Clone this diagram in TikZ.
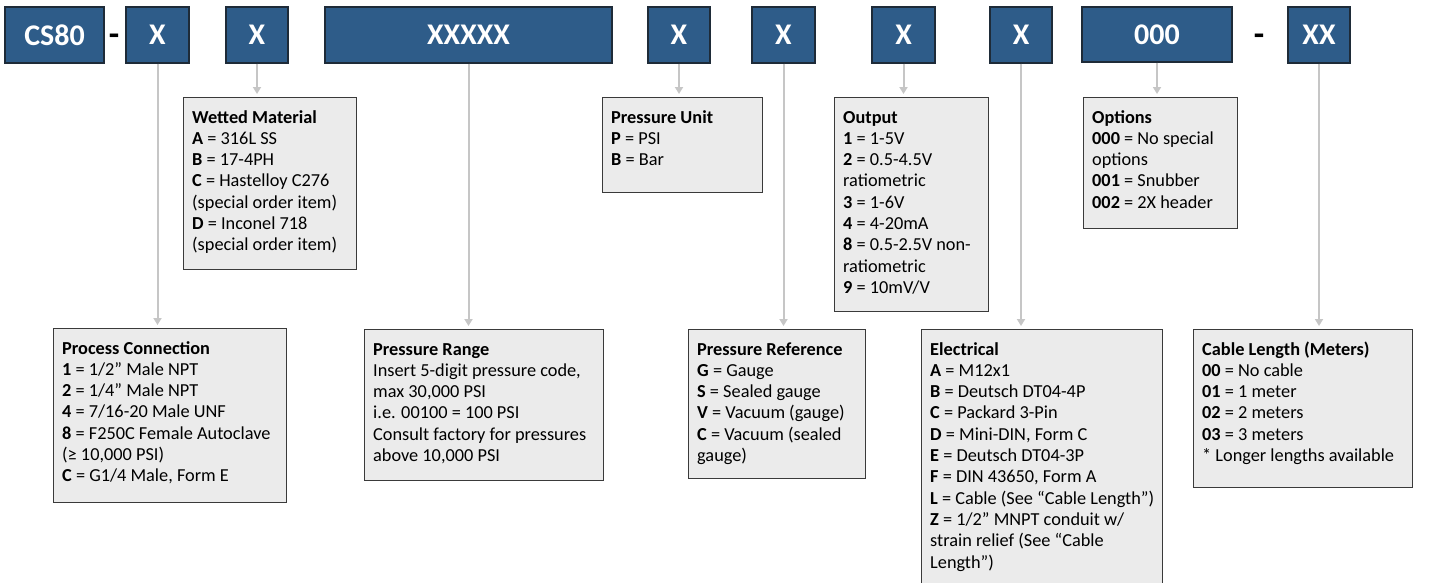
\documentclass[tikz,border=0pt]{standalone}
\usepackage{fontspec}
\setmainfont{Carlito}
\usetikzlibrary{arrows.meta}
\definecolor{hdrblue}{HTML}{2E5C89}
\definecolor{hdredge}{HTML}{1E2B38}
\definecolor{boxfill}{HTML}{EBEBEB}
\definecolor{boxedge}{HTML}{3A3A3A}
\definecolor{conncol}{HTML}{C6C6C6}
\tikzset{
  hdr/.style={draw=hdredge, line width=1.2pt, fill=hdrblue, text=white,
    font=\fontsize{30}{32}\selectfont\bfseries, inner sep=0pt, minimum height=56pt},
  ibox/.style={draw=boxedge, line width=1.3pt, fill=boxfill, inner sep=0pt, anchor=north west},
  itext/.style={anchor=base west, inner sep=0pt},
  dashtxt/.style={font=\fontsize{34}{36}\selectfont\bfseries, inner sep=0pt},
  conn/.style={draw=conncol, line width=2pt, -{Triangle[width=8pt,length=7pt]}, shorten >=3pt}
}
\newcommand{\infobox}[6]{%
  \node[ibox, minimum width={(#4-#2)*1pt}, minimum height={(#5-#3)*1pt}] (#1) at (#2,#3) {};
  \node[itext] (#1-txt) at ({#2+9},{#3+26}) {\parbox[t]{400pt}{\fontsize{18.3}{21.3}\selectfont #6}};
}
\begin{document}
\begin{tikzpicture}[x=1pt,y=-1pt]
\useasboundingbox[fill=white] (0,0) rectangle (1434,582);

% header row
\node[hdr, minimum width=99pt] (cs80) at (54.5,35) {CS80};
\node[dashtxt] (d1) at (114,40) {-};
\node[hdr, minimum width=63pt] (xa) at (157.5,35) {X};
\node[hdr, minimum width=62pt] (xb) at (257,35) {X};
\node[hdr, minimum width=287pt] (xr) at (468.5,35) {XXXXX};
\node[hdr, minimum width=62pt] (xu) at (679,35) {X};
\node[hdr, minimum width=63pt] (xp) at (783.5,35) {X};
\node[hdr, minimum width=63pt] (xo) at (903.5,35) {X};
\node[hdr, minimum width=62pt] (xe) at (1021,35) {X};
\node[hdr, minimum width=150pt, minimum height=55pt] (hopt) at (1157,34.5) {000};
\node[dashtxt] (d2) at (1259,40) {-};
\node[hdr, minimum width=62pt] (xx) at (1319,35) {XX};

% upper info boxes
\infobox{wm}{183}{97}{356}{269}{\textbf{Wetted Material}\\
\textbf{A} = 316L SS\\
\textbf{B} = 17-4PH\\
\textbf{C} = Hastelloy C276\\
(special order item)\\
\textbf{D} = Inconel 718\\
(special order item)}

\infobox{pu}{602}{97}{762}{192}{\textbf{Pressure Unit}\\
\textbf{P} = PSI\\
\textbf{B} = Bar}

\infobox{out}{834}{97}{988}{311}{\textbf{Output}\\
\textbf{1} = 1-5V\\
\textbf{2} = 0.5-4.5V\\
ratiometric\\
\textbf{3} = 1-6V\\
\textbf{4} = 4-20mA\\
\textbf{8} = 0.5-2.5V non-\\
ratiometric\\
\textbf{9} = 10mV/V}

\infobox{opbox}{1083}{97}{1237}{228}{\textbf{Options}\\
\textbf{000} = No special\\
options\\
\textbf{001} = Snubber\\
\textbf{002} = 2X header}

% lower info boxes
\infobox{pc}{53}{328}{286}{502}{\textbf{Process Connection}\\
\textbf{1} = 1/2” Male NPT\\
\textbf{2} = 1/4” Male NPT\\
\textbf{4} = 7/16-20 Male UNF\\
\textbf{8} = F250C Female Autoclave\\
(≥ 10,000 PSI)\\
\textbf{C} = G1/4 Male, Form E}

\infobox{pr}{364}{329}{603}{480}{\textbf{Pressure Range}\\
Insert 5-digit pressure code,\\
max 30,000 PSI\\
i.e. 00100 = 100 PSI\\
Consult factory for pressures\\
above 10,000 PSI}

\infobox{pref}{688}{329}{865}{478}{\textbf{Pressure Reference}\\
\textbf{G} = Gauge\\
\textbf{S} = Sealed gauge\\
\textbf{V} = Vacuum (gauge)\\
\textbf{C} = Vacuum (sealed\\
gauge)}

\infobox{el}{921}{329}{1162}{590}{\textbf{Electrical}\\
\textbf{A} = M12x1\\
\textbf{B} = Deutsch DT04-4P\\
\textbf{C} = Packard 3-Pin\\
\textbf{D} = Mini-DIN, Form C\\
\textbf{E} = Deutsch DT04-3P\\
\textbf{F} = DIN 43650, Form A\\
\textbf{L} = Cable (See “Cable Length”)\\
\textbf{Z} = 1/2” MNPT conduit w/\\
strain relief (See “Cable\\
Length”)}

\infobox{cl}{1193}{329}{1412}{487}{\textbf{Cable Length (Meters)}\\
\textbf{00} = No cable\\
\textbf{01} = 1 meter\\
\textbf{02} = 2 meters\\
\textbf{03} = 3 meters\\
{*} Longer lengths available}

% connectors
\draw[conn] (xa.south) -- (xa.south |- pc.north);
\draw[conn] (xb.south) -- (xb.south |- wm.north);
\draw[conn] (xr.south) -- (xr.south |- pr.north);
\draw[conn] (xu.south) -- (xu.south |- pu.north);
\draw[conn] (xp.south) -- (xp.south |- pref.north);
\draw[conn] (xo.south) -- (xo.south |- out.north);
\draw[conn] (xe.south) -- (xe.south |- el.north);
\draw[conn] (hopt.south) -- (hopt.south |- opbox.north);
\draw[conn] (xx.south) -- (xx.south |- cl.north);
\end{tikzpicture}
\end{document}
